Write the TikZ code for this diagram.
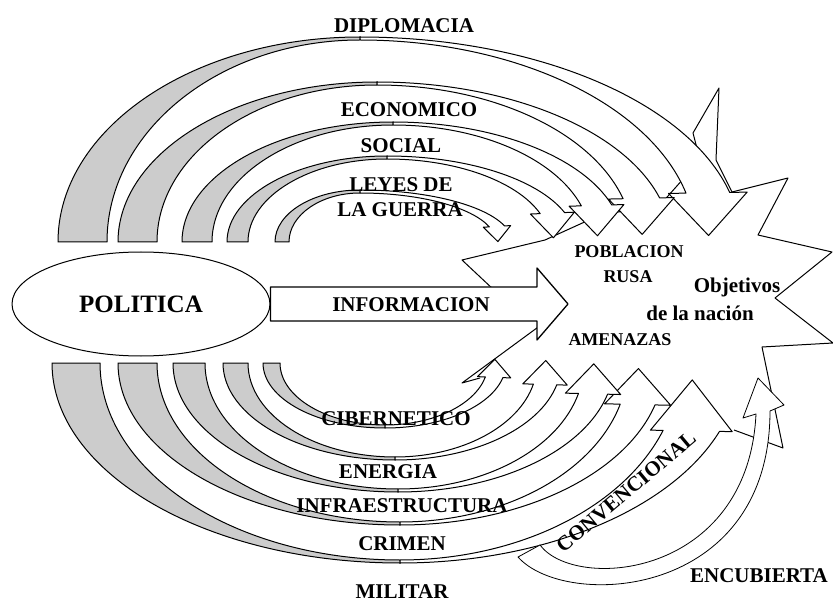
\documentclass[tikz,border=0pt]{standalone}
\usepackage{fontspec}
\setmainfont{Liberation Serif}
\usetikzlibrary{calc,shapes.geometric}
\newcommand{\barbfac}{1.8}
\newcommand{\tipfac}{0.95}
\newcommand{\bandarrow}[9]{%
  \pgfmathsetmacro{\bRxIn}{#3-#6}%
  \pgfmathsetmacro{\bRyIn}{#5-3}%
  \pgfmathsetmacro{\bRxOut}{#4-#7}%
  \pgfmathsetmacro{\bRot}{180-#9}%
  \pgfmathsetmacro{\bHl}{\tipfac*#7}%
  \path[backside] ({#1-#3},#2) arc[start angle=180, end angle=#9, x radius=#3, y radius=#5]
    -- ({#1},{#2+\bRyIn*sin(#9)}) arc[start angle=#9, end angle=180, x radius=\bRxIn, y radius=\bRyIn] -- cycle;
  \coordinate (o) at ({#1+#4*cos(#8)},{#2+#5*sin(#8)});
  \coordinate (i) at ({#1+\bRxOut*cos(#8)},{#2+\bRyIn*sin(#8)});
  \coordinate (m) at ($(o)!0.5!(i)$);
  \path[frontside] ({#1},{#2+#5*sin(#9)}) arc[start angle=#9, end angle=#8, x radius=#4, y radius=#5]
    -- ($(m)!\barbfac!(o)$) -- ($(m)!\bHl pt!\bRot:(o)$) -- ($(m)!\barbfac!(i)$) -- (i)
    arc[start angle=#8, end angle=#9, x radius=\bRxOut, y radius=\bRyIn] -- cycle;
}

\begin{document}
\begin{tikzpicture}[x=1pt, y=-1pt, line join=round,
    lab/.style={font=\bfseries\fontsize{21}{24}\selectfont, inner sep=0pt, anchor=base},
    smlab/.style={font=\bfseries\fontsize{18}{21}\selectfont, inner sep=0pt, anchor=base},
    backside/.style={draw, line width=1pt, fill=black!20},
    frontside/.style={draw, line width=1pt, fill=white}]
  \useasboundingbox (0,0) rectangle (833,604);
  \draw[line width=1pt] (480,378) -- (462,383) -- (545,322)
    (494,290) -- (462,260) -- (545,240) -- (600,215) -- (660,205) -- (700,160) -- (693,133)
    -- (719,88) -- (716,160) -- (732,192) -- (788,178) -- (758,235) -- (832,252)
    -- (775,298) -- (833,343) -- (762,347) -- (783,448) -- (734,430);
  \node (politica) [ellipse, draw, line width=1pt, fill=white, minimum width=258pt,
    minimum height=104pt, font=\bfseries\fontsize{25}{28}\selectfont] at (141,304) {POLITICA};
  \coordinate (goal) at (568,304);
  \path[frontside, line width=1.3pt] ($(politica.east)+(0,-17)$) -- ($(goal)+(-31,-17)$)
    -- ($(goal)+(-31,-36)$) -- (goal) -- ($(goal)+(-31,36)$) -- ($(goal)+(-31,17)$)
    -- ($(politica.east)+(0,17)$) -- cycle;
  \bandarrow{360}{242}{302}{381}{205}{49}{45}{346}{270}
  \bandarrow{377}{242}{259}{294}{160}{39}{38}{344}{270}
  \bandarrow{393}{242}{211}{230}{120}{30}{32}{342}{270}
  \bandarrow{387}{242}{160}{189}{86}{21}{26}{340}{270}
  \bandarrow{360}{242}{85}{152}{52}{14}{16}{342}{270}
  \renewcommand{\barbfac}{1.45}\renewcommand{\tipfac}{0.85}
  \bandarrow{400}{363}{348}{340}{200}{48}{60}{20}{90}
  \renewcommand{\barbfac}{1.9}\renewcommand{\tipfac}{1.0}
  \bandarrow{400}{363}{282}{264}{162}{39}{36}{15}{90}
  \bandarrow{398}{363}{225}{216}{129}{32}{30}{14}{90}
  \bandarrow{395}{363}{172}{166}{97}{25}{24}{13}{90}
  \bandarrow{385}{363}{122}{121}{65}{17}{18}{13}{90}
  \path[frontside, line width=0.8pt] (518,557) .. controls (565,610) and (770,600) .. (770,411)
    -- (784,405) -- (758,378) -- (743,418) -- (756,414)
    .. controls (748,578) and (575,592) .. (540,545) -- cycle;
  \node (diplomacia) [lab] at (404,33) {DIPLOMACIA};
  \node (economico) [lab] at (409,117) {ECONOMICO};
  \node (social) [lab] at (401,153) {SOCIAL};
  \node (leyes) [lab] at (401,192) {LEYES DE};
  \node (guerra) [lab] at (400,217) {LA GUERRA};
  \node (informacion) [lab] at (411,312) {INFORMACION};
  \node (poblacion) [smlab] at (629,258) {POBLACION};
  \node (rusa) [smlab] at (628,283) {RUSA};
  \node (objetivos) [lab] at (737,292) {Objetivos};
  \node (nacion) [lab] at (700,320) {de la nación};
  \node (amenazas) [smlab] at (620,345) {AMENAZAS};
  \node (cibernetico) [lab] at (396,425) {CIBERNETICO};
  \node (energia) [lab] at (388,478) {ENERGIA};
  \node (infra) [lab] at (402,512) {INFRAESTRUCTURA};
  \node (crimen) [lab] at (402,550) {CRIMEN};
  \node (militar) [lab] at (402,598) {MILITAR};
  \node (convencional) [lab, anchor=center, rotate=40] at (626,492) {CONVENCIONAL};
  \node (encubierta) [lab] at (759,582) {ENCUBIERTA};
\end{tikzpicture}
\end{document}
